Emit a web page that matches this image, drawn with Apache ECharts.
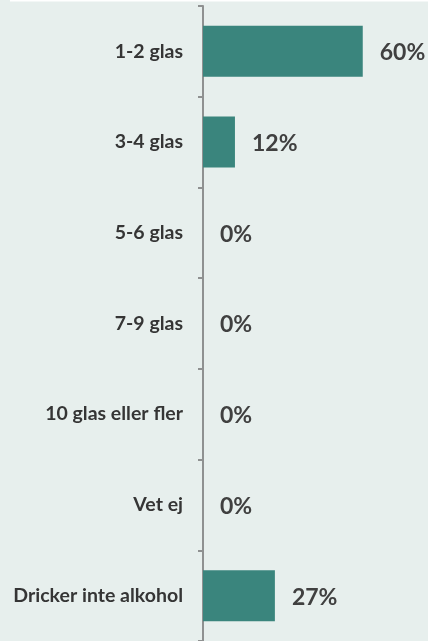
<!DOCTYPE html>
<html><head><meta charset="utf-8">
<script src="https://cdn.jsdelivr.net/npm/echarts@6/dist/echarts.min.js"></script>
<style>html,body{margin:0;padding:0;background:#e7efed}#c{width:428px;height:641px}</style>
</head><body><div id="c"></div>
<script>
const categories = ["1-2 glas","3-4 glas","5-6 glas","7-9 glas","10 glas eller fler","Vet ej","Dricker inte alkohol"];
const values = [60,12,0,0,0,0,27];
const chart = echarts.init(document.getElementById('c'));
chart.setOption({
  backgroundColor:'#e7efed',
  animation:false,
  graphic:[{type:'rect',left:10,top:0,shape:{width:418,height:1.5},style:{fill:'#ffffff'}}],
  grid:{left:203,top:6,width:213,height:637},
  xAxis:{type:'value',min:0,max:80,show:false},
  yAxis:{type:'category',data:categories,inverse:true,
    axisLine:{show:true,lineStyle:{color:'#8f9191',width:2}},
    axisTick:{show:true,interval:0,alignWithLabel:false,length:5,lineStyle:{color:'#8f9191',width:2}},
    axisLabel:{margin:20,color:'#353535',fontFamily:'Lato',fontWeight:'bold',fontSize:19.5}},
  series:[{type:'bar',data:values,barWidth:51,itemStyle:{color:'#3a857d'},
    label:{show:true,position:'right',distance:17,offset:[0,1.5],formatter:'{c}%',color:'#404040',fontFamily:'Lato',fontWeight:'bold',fontSize:23}}]
});
</script></body></html>
